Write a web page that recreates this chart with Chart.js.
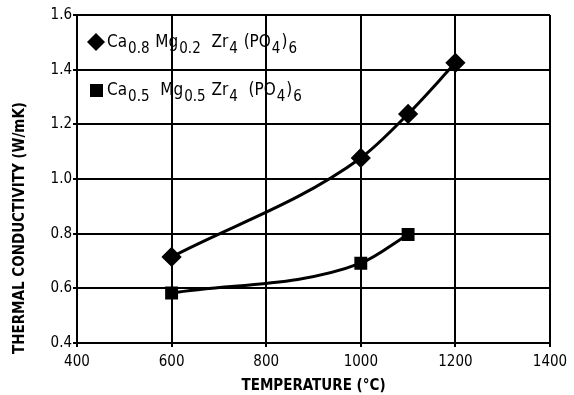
<!DOCTYPE html>
<html>
<head>
<meta charset="utf-8">
<script src="https://cdn.jsdelivr.net/npm/chart.js@4"></script>
<style>
  body { margin: 0; background: #fff; }
  #wrap { width: 574px; height: 395px; }
</style>
</head>
<body>
<div id="wrap"><canvas id="grafica" width="574" height="395"></canvas></div>
<script>
// Datos
const tempsCaMg82 = [600, 1000, 1100, 1200];
const condCaMg82 = [0.715, 1.077, 1.238, 1.425];
const tempsCaMg55 = [600, 1000, 1100];
const condCaMg55 = [0.583, 0.692, 0.797];
const xTicks = [400, 600, 800, 1000, 1200, 1400];
const yTicks = [0.4, 0.6, 0.8, 1.0, 1.2, 1.4, 1.6];
const tituloY = "THERMAL CONDUCTIVITY (W/mK)";

// Formulas de la leyenda: [texto, subindice?]
const leyenda = [
    { simbolo: "rectRot", partes: [["Ca", 0], ["0.8", 1], [" Mg", 0], ["0.2", 1], ["  Zr", 0], ["4", 1], [" (PO", 0], ["4", 1], [")", 0], ["6", 1]] },
    { simbolo: "rect", partes: [["Ca", 0], ["0.5", 1], ["  Mg", 0], ["0.5", 1], [" Zr", 0], ["4", 1], ["  (PO", 0], ["4", 1], [")", 0], ["6", 1]] },
];

const fuente = "'DejaVu Sans Condensed', 'DejaVu Sans', sans-serif";

const leyendaPlugin = {
    id: "leyendaFormula",
    afterDraw(chart) {
        const ctx = chart.ctx;
        const area = chart.chartArea;
        ctx.save();
        ctx.fillStyle = "#000";
        leyenda.forEach((item, i) => {
            const cy = area.top + 27 + i * 48;
            const sx = area.left + 19;
            ctx.beginPath();
            if (item.simbolo === "rectRot") {
                ctx.moveTo(sx, cy - 9);
                ctx.lineTo(sx + 9, cy);
                ctx.lineTo(sx, cy + 9);
                ctx.lineTo(sx - 9, cy);
            } else {
                ctx.rect(sx - 6, cy - 6, 13, 13);
            }
            ctx.closePath();
            ctx.fill();
            let x = sx + 11;
            item.partes.forEach(([txt, sub]) => {
                ctx.font = (sub ? "15px " : "17px ") + fuente;
                ctx.textBaseline = "alphabetic";
                ctx.fillText(txt, x, cy + (sub ? 11 : 5));
                x += ctx.measureText(txt).width + 1;
            });
        });

        // titulo del eje Y, algo desplazado hacia abajo como en el original
        ctx.font = "bold 15px " + fuente;
        ctx.textAlign = "center";
        ctx.textBaseline = "middle";
        ctx.translate(20, area.top + 213);
        ctx.rotate(-Math.PI / 2);
        ctx.fillText(tituloY, 0, 0);
        ctx.restore();
    },
};

const ctx = document.getElementById("grafica").getContext("2d");

new Chart(ctx, {
    type: "scatter",
    data: {
        datasets: [
            {
                label: "Ca0.8 Mg0.2 Zr4 (PO4)6",
                data: tempsCaMg82.map((t, i) => ({ x: t, y: condCaMg82[i] })),
                showLine: true,
                borderColor: "#000",
                backgroundColor: "#000",
                borderWidth: 3,
                pointStyle: "rectRot",
                pointRadius: 8,
                cubicInterpolationMode: "monotone",
            },
            {
                label: "Ca0.5 Mg0.5 Zr4 (PO4)6",
                data: tempsCaMg55.map((t, i) => ({ x: t, y: condCaMg55[i] })),
                showLine: true,
                borderColor: "#000",
                backgroundColor: "#000",
                borderWidth: 3,
                pointStyle: "rect",
                pointRadius: 7,
                cubicInterpolationMode: "monotone",
            },
        ],
    },
    options: {
        responsive: false,
        animation: false,
        layout: { padding: { top: 15, right: 24, left: 8, bottom: 0 } },
        plugins: {
            legend: { display: false },
            tooltip: { enabled: false },
        },
        scales: {
            x: {
                type: "linear",
                min: 400,
                max: 1400,
                afterBuildTicks: (s) => { s.ticks = xTicks.map((v) => ({ value: v })); },
                afterFit: (s) => { s.height = 52; },
                grid: { color: "#000", lineWidth: 2, tickLength: 4, drawTicks: true },
                border: { color: "#000", width: 2 },
                ticks: {
                    color: "#000",
                    font: { family: fuente, size: 15 },
                    padding: 6,
                    callback: (v) => String(v),
                },
                title: {
                    display: true,
                    text: "TEMPERATURE (°C)",
                    color: "#000",
                    font: { family: fuente, size: 15, weight: "bold" },
                    padding: 0,
                },
            },
            y: {
                min: 0.4,
                max: 1.6,
                afterBuildTicks: (s) => { s.ticks = yTicks.map((v) => ({ value: v })); },
                afterFit: (s) => { s.width = 69; },
                grid: { color: "#000", lineWidth: 2, tickLength: 4 },
                border: { color: "#000", width: 2 },
                ticks: {
                    color: "#000",
                    font: { family: fuente, size: 15 },
                    padding: 1,
                    callback: (v) => Number(v).toFixed(1),
                },
                title: { display: false },
            },
        },
    },
    plugins: [leyendaPlugin],
});
</script>
</body>
</html>
